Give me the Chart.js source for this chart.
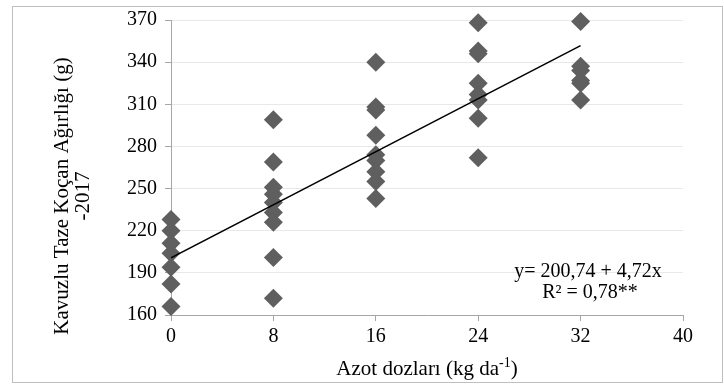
<!DOCTYPE html>
<html>
<head>
<meta charset="utf-8">
<script src="https://cdn.jsdelivr.net/npm/chart.js@4.4.0/dist/chart.umd.min.js"></script>
<style>
    html, body { margin: 0; padding: 0; background: #ffffff; }
</style>
</head>
<body>
<canvas id="AzotChart" width="724" height="388"></canvas>
<script>
// azot dozları (kg da-1) ve her dozdaki koçan ağırlıkları (g)
var NitrogenDoses = [0, 8, 16, 24, 32]
var Weight_0 = [228, 220, 211, 204, 194, 182, 166]
var Weight_8 = [299, 269, 251, 246, 240, 233, 226, 201, 172]
var Weight_16 = [340, 308, 306, 288, 274, 270, 262, 255, 243]
var Weight_24 = [368, 348, 346, 325, 317, 313, 300, 272]
var Weight_32 = [369, 337, 334, 327, 325, 313]

var XTicks = [0, 8, 16, 24, 32, 40]
var YTicks = [160, 190, 220, 250, 280, 310, 340, 370]

// regresyon: y = 200,74 + 4,72x
var Intercept = 200.74
var Slope = 4.72
var R2 = 0.78

var WeightsByDose = [Weight_0, Weight_8, Weight_16, Weight_24, Weight_32]
var ScatterPoints = []
for (var i = 0; i < NitrogenDoses.length; i++) {
    for (var v of WeightsByDose[i])
        ScatterPoints.push({ x: NitrogenDoses[i], y: v })
}

var TrendPoints = [
    { x: NitrogenDoses[0], y: Intercept + Slope * NitrogenDoses[0] },
    { x: NitrogenDoses[NitrogenDoses.length - 1], y: Intercept + Slope * NitrogenDoses[NitrogenDoses.length - 1] }
]

var SERIF = '"Liberation Serif", "Times New Roman", serif'

function fmtComma(n) {
    return n.toFixed(2).replace('.', ',')
}

// çerçeve, eksen başlıkları ve denklem metni
var decorations = {
    id: 'decorations',
    afterDraw: function (chart) {
        var ctx = chart.ctx
        var area = chart.chartArea
        ctx.save()

        ctx.strokeStyle = '#bfbfbf'
        ctx.lineWidth = 1
        ctx.strokeRect(12.5, 6.5, 710, 376)

        ctx.fillStyle = '#000000'
        ctx.font = '21px ' + SERIF
        ctx.textBaseline = 'middle'

        // y ekseni başlığı
        ctx.save()
        ctx.translate(72, 196)
        ctx.rotate(-Math.PI / 2)
        ctx.textAlign = 'center'
        ctx.fillText('Kavuzlu Taze Koçan Ağırlığı (g)', 0, -10)
        ctx.fillText('-2017', 0, 11)
        ctx.restore()

        // x ekseni başlığı (üst simge ile)
        var part1 = 'Azot dozları (kg da'
        var sup = '-1'
        var part2 = ')'
        ctx.font = '21px ' + SERIF
        var w1 = ctx.measureText(part1).width
        var w3 = ctx.measureText(part2).width
        ctx.font = '14px ' + SERIF
        var w2 = ctx.measureText(sup).width
        var cx = (area.left + area.right) / 2
        var startX = cx - (w1 + w2 + w3) / 2
        var ty = 369
        ctx.textAlign = 'left'
        ctx.font = '21px ' + SERIF
        ctx.fillText(part1, startX, ty)
        ctx.font = '14px ' + SERIF
        ctx.fillText(sup, startX + w1, ty - 6)
        ctx.font = '21px ' + SERIF
        ctx.fillText(part2, startX + w1 + w2, ty)

        // denklem
        ctx.font = '20px ' + SERIF
        ctx.textAlign = 'center'
        ctx.fillText('y= ' + fmtComma(Intercept) + ' + ' + fmtComma(Slope) + 'x', 588, 272)
        ctx.fillText('R\u00b2 = ' + fmtComma(R2) + '**', 590, 293)

        ctx.restore()
    }
}

var config_Azot = {
    type: 'scatter',
    data: {
        datasets: [
            {
                label: 'Koçan Ağırlığı',
                data: ScatterPoints,
                pointStyle: 'rectRot',
                pointRadius: 9.5,
                pointHoverRadius: 9.5,
                backgroundColor: '#5f5f5f',
                borderColor: '#5f5f5f',
                borderWidth: 0,
                clip: false,
                order: 2
            },
            {
                label: 'Doğrusal',
                type: 'line',
                data: TrendPoints,
                borderColor: '#000000',
                borderWidth: 1.5,
                pointRadius: 0,
                fill: false,
                order: 1
            }
        ]
    },
    options: {
        responsive: false,
        animation: false,
        devicePixelRatio: 1,
        layout: {
            padding: { left: 12, right: 41, top: 18, bottom: 0 }
        },
        plugins: {
            legend: { display: false },
            tooltip: { enabled: false }
        },
        scales: {
            x: {
                type: 'linear',
                min: XTicks[0],
                max: XTicks[XTicks.length - 1],
                afterBuildTicks: function (scale) {
                    scale.ticks = XTicks.map(function (v) { return { value: v } })
                },
                afterFit: function (scale) {
                    scale.height = 73
                },
                grid: {
                    drawOnChartArea: false,
                    drawTicks: true,
                    tickLength: 6,
                    tickColor: '#a6a6a6'
                },
                border: { color: '#a6a6a6', width: 1 },
                ticks: {
                    color: '#000000',
                    padding: 4,
                    maxRotation: 0,
                    font: { family: SERIF, size: 20 }
                }
            },
            y: {
                type: 'linear',
                min: YTicks[0],
                max: YTicks[YTicks.length - 1],
                afterBuildTicks: function (scale) {
                    scale.ticks = YTicks.map(function (v) { return { value: v } })
                },
                afterFit: function (scale) {
                    scale.width = 171 - 12
                },
                grid: {
                    color: '#e8e8e8',
                    drawTicks: true,
                    tickLength: 6,
                    tickColor: '#a6a6a6'
                },
                border: { color: '#a6a6a6', width: 1 },
                ticks: {
                    color: '#000000',
                    padding: 8,
                    font: { family: SERIF, size: 20 }
                }
            }
        }
    },
    plugins: [decorations]
}

var AzotChartElement = document.getElementById('AzotChart').getContext('2d')
new Chart(AzotChartElement, config_Azot)
</script>
</body>
</html>
